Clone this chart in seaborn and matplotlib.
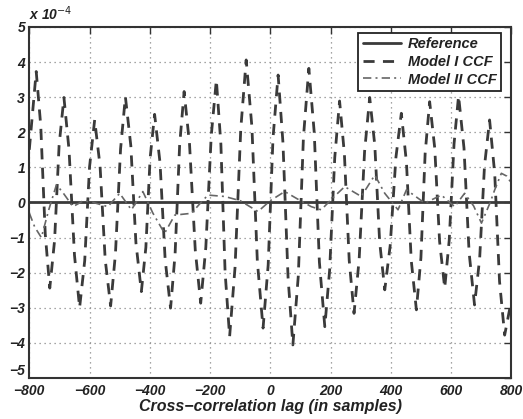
import matplotlib
matplotlib.use("Agg")
import matplotlib.pyplot as plt
import seaborn as sns
import pandas as pd

# ---------------- data (values in units of 1e-4) ----------------
ref_lag = [-800, 800]
ref_val = [0.0, 0.0]

model1_lag = [-800, -777, -762, -747, -732, -716, -701, -685, -668, -650, -633,
              -616, -600, -583, -565, -548, -530, -514, -497, -481, -463, -446,
              -428, -413, -399, -384, -366, -349, -331, -316, -301, -286, -268,
              -249, -231, -214, -196, -179, -164, -150, -135, -117, -98, -80,
              -61, -43, -24, -7, 9, 26, 42, 59, 75, 93, 110, 128, 146, 163, 181,
              197, 214, 230, 246, 262, 278, 295, 313, 330, 347, 363, 380, 398,
              417, 435, 452, 468, 485, 500, 514, 529, 546, 562, 579, 594, 610,
              625, 643, 660, 678, 695, 711, 728, 745, 761, 778, 800]
model1_val = [1.5, 3.73, 2.19, -0.90, -2.44, -1.08, 1.63, 2.99, 1.49, -1.50, -3.00,
              -1.66, 1.01, 2.35, 1.03, -1.63, -2.95, -1.46, 1.52, 3.01, 1.62, -1.15,
              -2.54, -1.28, 1.25, 2.51, 1.13, -1.63, -3.01, -1.47, 1.62, 3.16, 1.65,
              -1.36, -2.87, -1.28, 1.90, 3.49, 1.66, -1.99, -3.82, -1.85, 2.09, 4.06,
              2.15, -1.67, -3.58, -1.78, 1.83, 3.63, 1.71, -2.14, -4.06, -2.09, 1.85,
              3.82, 1.98, -1.70, -3.54, -1.93, 1.28, 2.89, 1.38, -1.65, -3.16, -1.62,
              1.45, 2.99, 1.62, -1.12, -2.49, -1.23, 1.28, 2.54, 1.14, -1.66, -3.06,
              -1.58, 1.39, 2.87, 1.54, -1.11, -2.44, -1.07, 1.67, 3.04, 1.55, -1.43,
              -2.92, -1.60, 1.03, 2.35, 0.82, -2.25, -3.78, -2.80]

model2_lag = [-800, -782, -760, -735, -710, -690, -655, -620, -588, -539, -500,
              -461, -423, -390, -351, -317, -262, -230, -207, -151, -100, -41, 0,
              48, 90, 136, 169, 210, 247, 302, 347, 380, 424, 452, 513, 568, 612,
              645, 675, 701, 730, 745, 767, 785, 800]
model2_val = [-0.30, -0.70, -1.00, -0.20, 0.50, 0.30, -0.12, 0.05, 0.00, -0.12, 0.26,
              -0.21, 0.31, -0.30, -0.88, -0.36, -0.31, 0.00, 0.21, 0.17, 0.05, -0.26,
              0.05, 0.31, 0.10, -0.12, -0.21, 0.15, 0.45, 0.17, 0.78, 0.26, -0.21,
              0.36, -0.02, 0.21, -0.12, 0.26, -0.10, -0.59, 0.00, 0.36, 0.83, 0.75,
              0.55]

x_ticks = [-800, -600, -400, -200, 0, 200, 400, 600, 800]
y_ticks = [-5, -4, -3, -2, -1, 0, 1, 2, 3, 4, 5]
series_names = ["Reference", "Model I CCF", "Model II CCF"]
x_label = "Cross\u2212correlation lag (in samples)"
exp_label = "x 10$^{-4}$"

# ---------------- plotting ----------------
sns.set_style("white")
plt.rcParams["font.family"] = ["Liberation Sans", "DejaVu Sans"]
plt.rcParams["axes.unicode_minus"] = True

fig = plt.figure(figsize=(5.23, 4.19), dpi=100)
ax = fig.add_axes([0.056, 0.098, 0.9216, 0.8377])

line_col = "#3a3a3a"
sns.lineplot(x=ref_lag, y=ref_val, ax=ax, color=line_col, linewidth=2.0,
             label=series_names[0], sort=False)
sns.lineplot(x=model1_lag, y=model1_val, ax=ax, color=line_col, linewidth=2.0,
             label=series_names[1], sort=False)
sns.lineplot(x=model2_lag, y=model2_val, ax=ax, color="#666666", linewidth=1.2,
             label=series_names[2], sort=False)
lines = ax.get_lines()
lines[1].set_dashes([4.0, 3.0])
lines[2].set_dashes([5.0, 2.5, 1.2, 2.5])

ax.set_xlim(-800, 800)
ax.set_ylim(-5, 5)
ax.set_xticks(x_ticks)
ax.set_yticks(y_ticks)
ax.set_xticklabels([str(t).replace("-", "\u2212") for t in x_ticks])
ax.set_yticklabels([str(t).replace("-", "\u2212") for t in y_ticks])
for lab in ax.get_xticklabels() + ax.get_yticklabels():
    lab.set_fontweight("bold")
    lab.set_fontstyle("italic")
    lab.set_fontsize(10)
    lab.set_color("#222222")
# lowest y label sits just above the first x label, as in the reference
ax.get_yticklabels()[0].set_verticalalignment("bottom")

ax.grid(True, linestyle=(0, (1, 3)), color="#888888", linewidth=0.9)
ax.tick_params(direction="in", length=5, width=1.0, top=True, right=True,
               pad=3, colors="#333333", labelcolor="#222222")
ax.tick_params(axis="x", pad=4.5)
for s in ax.spines.values():
    s.set_color("#333333")
    s.set_linewidth(1.5)

ax.set_xlabel(x_label, fontsize=11.5, fontweight="bold", fontstyle="italic",
              color="#222222", labelpad=0.5)
ax.set_ylabel("")
ax.text(0.0, 1.012, exp_label, transform=ax.transAxes, fontsize=10,
        fontweight="bold", fontstyle="italic", color="#222222",
        ha="left", va="bottom")

leg = ax.legend(loc="upper right", frameon=True, fancybox=False,
                edgecolor="#222222", framealpha=1.0, borderpad=0.3,
                borderaxespad=0.0,
                handlelength=2.6, handletextpad=0.5, labelspacing=0.25,
                bbox_to_anchor=(0.979, 0.983),
                prop={"weight": "bold", "style": "italic", "size": 10.5})
leg.get_frame().set_linewidth(1.3)
for t in leg.get_texts():
    t.set_color("#222222")

fig.savefig("out.png", dpi=100)
